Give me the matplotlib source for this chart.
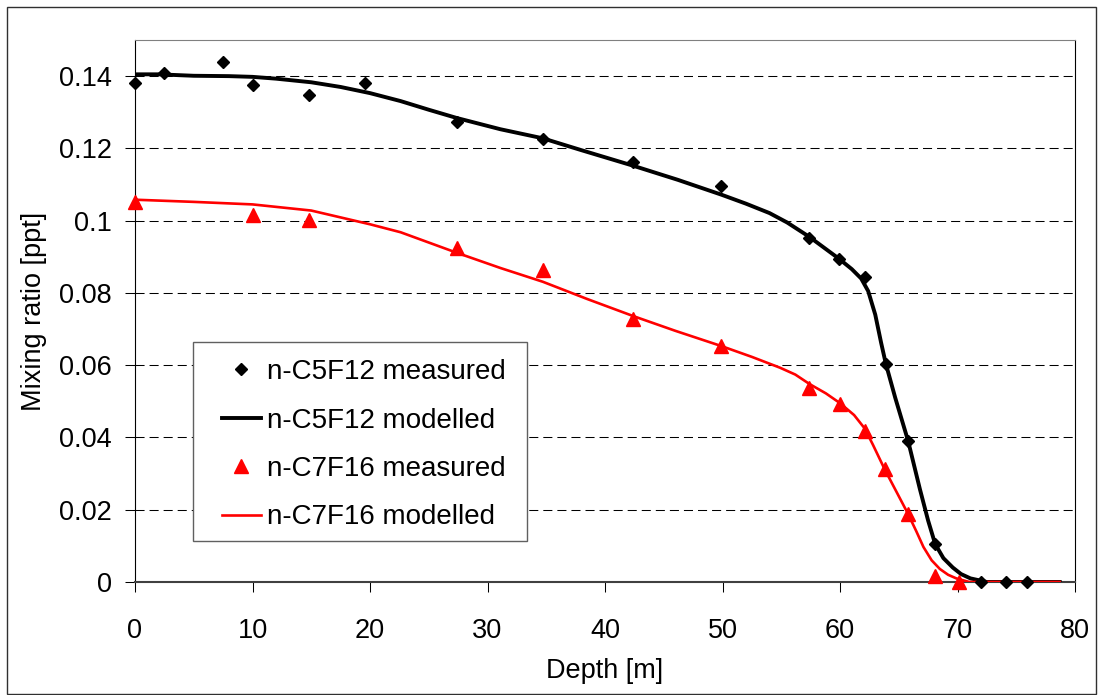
import numpy as np
import matplotlib
matplotlib.use("Agg")
import matplotlib.pyplot as plt
from matplotlib.lines import Line2D
from matplotlib.patches import Rectangle

plt.rcParams['font.family'] = ['Liberation Sans', 'DejaVu Sans']

# measured n-C5F12
c5_x = [0, 2.5, 7.5, 10.0, 14.8, 19.6, 27.4, 34.7, 42.4, 49.9, 57.4, 59.9, 62.1,
        63.9, 65.8, 68.1, 72.0, 74.1, 75.9]
c5_y = [0.138, 0.141, 0.1438, 0.1376, 0.1348, 0.1382, 0.1273, 0.1226, 0.1161, 0.1097,
        0.0953, 0.0894, 0.0844, 0.0602, 0.0389, 0.0105, 0.0, 0.0, 0.0]

# measured n-C7F16
c7_x = [0, 10.0, 14.8, 27.4, 34.7, 42.4, 49.9, 57.4, 60.0, 62.1, 63.8, 65.8, 68.1, 70.1]
c7_y = [0.1053, 0.1015, 0.1001, 0.0923, 0.0863, 0.0727, 0.0653, 0.0538, 0.0493, 0.0418,
        0.0312, 0.0188, 0.0017, 0.0]

# modelled n-C5F12
c5m_x = [0, 2, 5, 8, 10, 12, 15, 17.5, 20, 22.6, 25, 27.4, 31.1, 34.7, 38, 42.4, 46.2,
         49.9, 52.0, 54.0, 55.5, 57.4, 59.9, 61.0, 61.8, 62.4, 63.0, 63.5, 63.9, 64.7,
         65.8, 66.8, 67.5, 68.1, 68.8, 69.6, 70.3, 71.1, 72.5, 78.7]
c5m_y = [0.1405, 0.1405, 0.1401, 0.1400, 0.1398, 0.1393, 0.1383, 0.1370, 0.1353, 0.1331,
         0.1307, 0.1284, 0.1253, 0.1228, 0.1195, 0.1152, 0.1113, 0.1072, 0.1047, 0.1021,
         0.0995, 0.0955, 0.0895, 0.0866, 0.0840, 0.0805, 0.0740, 0.0662, 0.0604, 0.0510,
         0.0390, 0.0257, 0.0170, 0.0105, 0.0066, 0.0040, 0.0022, 0.0010, 0.0, 0.0]

# modelled n-C7F16
c7m_x = [0, 5, 10, 15, 20, 22.6, 27.4, 31.1, 34.7, 38.5, 42.4, 46.0, 49.9, 52.5, 54.9,
         56.2, 57.4, 58.8, 60.0, 61.2, 62.1, 62.8, 63.8, 64.8, 65.8, 66.5, 67.1, 67.8,
         68.5, 69.2, 69.9, 71.0, 78.7]
c7m_y = [0.1058, 0.1052, 0.1045, 0.1028, 0.0990, 0.0968, 0.0911, 0.0869, 0.0831, 0.0783,
         0.0736, 0.0695, 0.0653, 0.0623, 0.0593, 0.0574, 0.0548, 0.0522, 0.0495, 0.0462,
         0.0425, 0.0380, 0.0312, 0.0250, 0.0188, 0.0140, 0.0097, 0.0060, 0.0036, 0.0020,
         0.0010, 0.0, 0.0]

yticks = [0, 0.02, 0.04, 0.06, 0.08, 0.10, 0.12, 0.14]
ytick_labels = ['0', '0.02', '0.04', '0.06', '0.08', '0.1', '0.12', '0.14']
xticks = [0, 10, 20, 30, 40, 50, 60, 70, 80]
labels = ['n-C5F12 measured', 'n-C5F12 modelled', 'n-C7F16 measured', 'n-C7F16 modelled']

W, H = 1098, 695
fig = plt.figure(figsize=(W / 100, H / 100), dpi=100)
ax = fig.add_axes([135 / W, 113 / H, 940 / W, 542 / H])

ax.plot(c5m_x, c5m_y, color='black', lw=2.8, zorder=3)
ax.plot(c7m_x, c7m_y, color='red', lw=1.9, zorder=4)
ax.plot(c5_x, c5_y, ls='none', marker='D', ms=6.2, color='black', zorder=5, clip_on=False)
ax.plot(c7_x, c7_y, ls='none', marker='^', ms=10, color='red', mec='red', zorder=6,
        clip_on=False)

ax.set_xlim(0, 80)
ax.set_ylim(0, 0.15)
ax.set_xticks(xticks)
ax.set_yticks(yticks)
ax.set_yticklabels(ytick_labels)
ax.yaxis.grid(True, color='black', lw=0.75, linestyle=(0, (8.7, 4.8)))
ax.set_axisbelow(True)

ax.tick_params(axis='y', direction='out', length=7.2, width=0.75, pad=9.4, labelsize=19.5)
ax.tick_params(axis='x', direction='out', length=7.2, width=0.75, pad=18.5, labelsize=19.5)

ax.spines['left'].set_color('black')
ax.spines['left'].set_linewidth(0.8)
ax.spines['bottom'].set_color('#404040')
ax.spines['bottom'].set_linewidth(1.5)
ax.spines['top'].set_color('#808080')
ax.spines['top'].set_linewidth(0.8)
ax.spines['right'].set_color('black')
ax.spines['right'].set_linewidth(0.8)

ax.set_xlabel('Depth [m]', fontsize=19.5)
ax.xaxis.set_label_coords(0.5, -0.141)
ax.set_ylabel('Mixing ratio [ppt]', fontsize=19.5)
ax.yaxis.set_label_coords(-0.094, 0.5)

# legend box with white background
fig.add_artist(Rectangle((193 / W, 1 - 541 / H), (527 - 193) / W, (541 - 342) / H,
                         transform=fig.transFigure, facecolor='white', edgecolor='#606060',
                         lw=1.0, zorder=4))

handles = [
    Line2D([], [], ls='none', marker='D', ms=6.2, color='black'),
    Line2D([], [], color='black', lw=2.8),
    Line2D([], [], ls='none', marker='^', ms=10, color='red'),
    Line2D([], [], color='red', lw=1.9),
]
leg = fig.legend(handles, labels, loc='upper left', bbox_to_anchor=(222 / W, 1 - 359 / H),
                 bbox_transform=fig.transFigure, frameon=False, fontsize=20,
                 handlelength=1.4, handletextpad=0.22, labelspacing=0.81,
                 borderpad=0, borderaxespad=0)
leg.set_zorder(5)

# outer chart border
fig.add_artist(Rectangle((7 / W, 1 - 694 / H), (1096 - 7) / W, (694 - 7) / H,
                         transform=fig.transFigure, fill=False, edgecolor='#303030',
                         lw=1.0))

fig.savefig('out.png', dpi=100)
